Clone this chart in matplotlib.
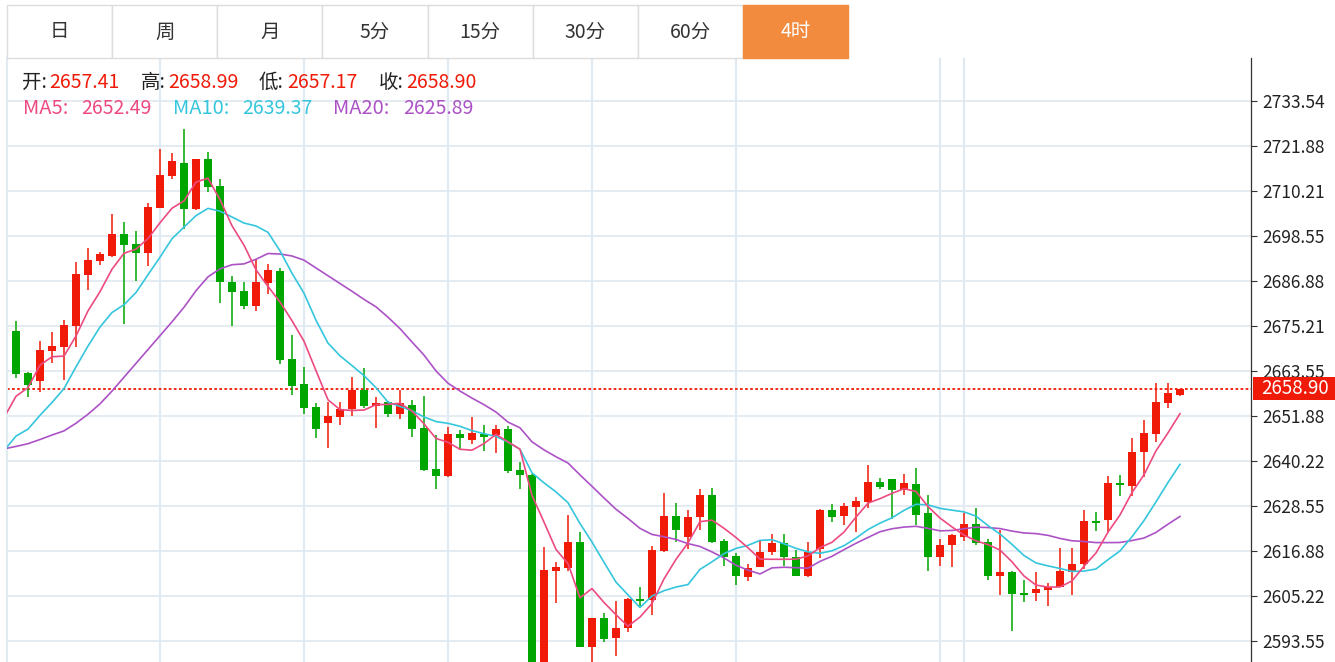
import numpy as np
import pandas as pd
import matplotlib
matplotlib.use("Agg")
import matplotlib.pyplot as plt
from matplotlib.patches import Rectangle

plt.rcParams['font.family'] = ['Noto Sans CJK SC', 'DejaVu Sans']

# 4h candles (oldest first)
opens = [
    2674.05, 2663.02, 2660.95, 2668.85, 2669.66, 2675.13, 2688.50, 2692.18, 2693.35, 2699.09,
    2696.40, 2694.15, 2705.91, 2713.98, 2717.57, 2705.46, 2718.47, 2711.56, 2686.62, 2684.19,
    2680.52, 2686.35, 2689.58, 2666.79, 2660.06, 2654.13, 2650.01, 2651.62, 2653.69, 2658.71,
    2654.49, 2655.39, 2652.34, 2654.85, 2648.75, 2638.07, 2636.37, 2647.32, 2645.79, 2647.32,
    2646.87, 2648.39, 2637.89, 2636.64, 2587.60, 2611.69, 2612.50, 2619.32, 2591.95, 2599.49,
    2594.37, 2596.89, 2604.51, 2604.07, 2616.81, 2625.87, 2620.40, 2625.60, 2631.43, 2619.50,
    2615.55, 2610.26, 2612.86, 2616.63, 2618.87, 2615.46, 2610.53, 2617.52, 2627.57, 2625.87,
    2628.29, 2629.64, 2634.75, 2635.47, 2632.78, 2634.39, 2626.68, 2615.28, 2618.42, 2620.40,
    2623.99, 2619.14, 2610.35, 2611.42, 2606.13, 2606.13, 2606.76, 2607.65, 2611.42, 2613.49,
    2624.70, 2624.88, 2634.57, 2633.86, 2642.47, 2647.32, 2655.21, 2657.41]
highs = [
    2676.48, 2663.38, 2671.36, 2673.79, 2676.75, 2691.73, 2695.50, 2694.42, 2704.38, 2702.14,
    2699.81, 2706.99, 2721.07, 2720.18, 2726.19, 2718.60, 2720.36, 2713.36, 2688.14, 2686.62,
    2692.63, 2691.28, 2690.21, 2672.89, 2664.54, 2655.21, 2655.57, 2655.57, 2662.12, 2664.36,
    2656.92, 2655.70, 2658.71, 2656.11, 2657.01, 2646.96, 2649.11, 2648.30, 2651.71, 2649.47,
    2649.56, 2649.29, 2639.96, 2636.80, 2617.97, 2613.94, 2626.32, 2621.83, 2599.49, 2600.92,
    2603.89, 2604.70, 2607.65, 2618.24, 2631.88, 2629.37, 2627.40, 2632.96, 2633.14, 2620.04,
    2616.45, 2613.49, 2619.77, 2621.29, 2621.29, 2617.08, 2619.32, 2627.75, 2629.19, 2629.46,
    2630.98, 2639.24, 2635.92, 2635.65, 2636.91, 2638.34, 2631.43, 2620.04, 2621.29, 2626.68,
    2628.11, 2620.04, 2622.46, 2611.60, 2609.45, 2611.51, 2608.55, 2617.70, 2617.70, 2627.57,
    2627.13, 2636.37, 2636.55, 2646.24, 2650.90, 2660.42, 2660.42, 2658.99]
lows = [
    2661.76, 2656.83, 2658.08, 2665.53, 2661.31, 2669.84, 2684.55, 2691.10, 2693.08, 2675.85,
    2686.89, 2690.83, 2705.80, 2713.45, 2700.44, 2705.28, 2709.95, 2681.14, 2675.22, 2679.53,
    2679.17, 2683.48, 2665.26, 2657.45, 2652.34, 2646.15, 2643.55, 2649.56, 2651.89, 2654.04,
    2648.66, 2651.62, 2651.08, 2646.51, 2637.71, 2633.05, 2636.10, 2643.10, 2644.71, 2642.83,
    2642.20, 2637.09, 2633.05, 2582.00, 2584.50, 2603.35, 2611.69, 2591.95, 2587.00, 2593.30,
    2589.71, 2595.99, 2602.27, 2600.21, 2616.63, 2619.14, 2617.52, 2622.28, 2618.96, 2613.04,
    2608.10, 2609.18, 2612.68, 2615.91, 2613.04, 2610.35, 2610.17, 2615.01, 2624.52, 2623.63,
    2621.83, 2627.93, 2632.96, 2625.15, 2631.34, 2623.63, 2611.69, 2613.04, 2612.86, 2619.50,
    2618.42, 2609.45, 2605.41, 2596.17, 2603.62, 2603.89, 2602.54, 2607.47, 2605.41, 2612.32,
    2622.19, 2621.83, 2631.16, 2631.25, 2636.19, 2645.16, 2653.87, 2657.17]
closes = [
    2662.66, 2659.88, 2669.03, 2670.02, 2675.49, 2688.77, 2692.36, 2693.97, 2699.09, 2696.13,
    2694.15, 2706.09, 2714.43, 2717.93, 2705.64, 2718.47, 2711.20, 2686.62, 2684.10, 2680.43,
    2686.53, 2689.67, 2666.52, 2659.79, 2653.87, 2648.39, 2651.89, 2653.78, 2658.71, 2654.40,
    2655.30, 2652.34, 2655.21, 2648.57, 2637.89, 2636.37, 2647.32, 2646.15, 2647.40, 2646.42,
    2648.39, 2637.62, 2636.55, 2587.50, 2611.96, 2612.86, 2619.32, 2592.13, 2599.49, 2594.02,
    2596.89, 2604.51, 2603.89, 2617.08, 2625.87, 2622.28, 2625.78, 2631.43, 2619.14, 2615.28,
    2610.35, 2612.50, 2616.72, 2618.87, 2615.28, 2610.53, 2616.63, 2627.57, 2625.78, 2628.47,
    2629.91, 2634.75, 2633.41, 2632.60, 2634.57, 2626.32, 2615.28, 2618.42, 2621.11, 2623.99,
    2618.87, 2610.35, 2611.42, 2605.86, 2605.59, 2607.12, 2607.65, 2611.69, 2613.58, 2624.70,
    2624.26, 2634.57, 2634.04, 2642.65, 2647.58, 2655.39, 2657.90, 2658.90]

# moving averages before enough visible history exists (bar -1 onward)
ma5_head = [2651.44, 2657.01, 2659.25, 2665.08, 2667.24]
ma10_head = [2642.92, 2646.69, 2648.48, 2652.07, 2655.39, 2658.98, 2664.63, 2670.02,
             2674.95, 2678.72]
ma20_head = [2643.37, 2644.00, 2644.71, 2645.79, 2646.96, 2648.03, 2650.01, 2652.34,
             2655.03, 2658.35, 2661.94, 2665.53, 2669.12, 2672.71, 2676.30, 2680.07,
             2684.37, 2687.96, 2690.03, 2691.10]

# values printed in the legend line
ma_names = ['MA5:', 'MA10:', 'MA20:']
ma_last = [2652.49, 2639.37, 2625.89]

yticks = [2593.55, 2605.22, 2616.88, 2628.55, 2640.22, 2651.88, 2663.55,
          2675.21, 2686.88, 2698.55, 2710.21, 2721.88, 2733.54]
day_breaks = [12, 24, 36, 48, 60, 77, 79]
tabs = ['日', '周', '月', '5分', '15分', '30分', '60分', '4时']
active_tab = '4时'

RED = '#f01a08'
GREEN = '#00a600'
C_MA5 = '#ec4a80'
C_MA10 = '#35c6dd'
C_MA20 = '#ac52c6'
GRID = '#e2eaf1'

o = np.array(opens)
h = np.array(highs)
l = np.array(lows)
c = np.array(closes)
x = np.arange(len(c))

s = pd.Series(c)
ma5 = np.r_[ma5_head, s.rolling(5).mean().values[4:]]
ma10 = np.r_[ma10_head, s.rolling(10).mean().values[9:]]
ma20 = np.r_[ma20_head, s.rolling(20).mean().values[19:]]
xm = np.arange(-1, len(c))

W, H = 1335, 662
fig = plt.figure(figsize=(W / 100, H / 100), dpi=100)
ax = fig.add_axes([7 / W, 0, (1251 - 7) / W, (H - 58) / H])
ax.set_xlim(-0.75, 102.92)
ax.set_ylim(2588.12, 2744.69)

ax.yaxis.tick_right()
ax.set_yticks(yticks)
ax.set_yticklabels([f"{v:.2f}" for v in yticks])
ax.tick_params(axis='y', length=4, width=0.8, color='#333333', labelcolor='#222222',
               labelsize=12.5, pad=4)
ax.set_xticks([])
for side in ['top', 'bottom']:
    ax.spines[side].set_visible(False)
ax.spines['right'].set_color('#333333')
ax.spines['right'].set_linewidth(0.9)
ax.spines['left'].set_color(GRID)
ax.spines['left'].set_linewidth(1.5)

ax.grid(axis='y', color=GRID, lw=1.3, zorder=0)
for d in day_breaks:
    ax.axvline(d, color=GRID, lw=1.6, zorder=0)
ax.set_axisbelow(True)

colors = np.where(c >= o, RED, GREEN)
ax.vlines(x, l, h, colors=colors, lw=1.1, zorder=3)
ax.bar(x, np.maximum(np.abs(c - o), 0.35), bottom=np.minimum(o, c), width=0.62,
       color=colors, linewidth=0, zorder=4)

ax.plot(xm, ma20, color=C_MA20, lw=1.2, zorder=5)
ax.plot(xm, ma10, color=C_MA10, lw=1.2, zorder=5)
ax.plot(xm, ma5, color=C_MA5, lw=1.2, zorder=5)

ax.axhline(c[-1], color=RED, lw=1.3, ls=(0, (1.5, 1.3)), zorder=2)

# overlay in pixel coordinates for the tab bar, info lines and price tag
ov = fig.add_axes([0, 0, 1, 1], zorder=10)
ov.set_xlim(0, W)
ov.set_ylim(H, 0)
ov.axis('off')
ov.patch.set_alpha(0)

tab_w = (848 - 7) / len(tabs)
for k, t in enumerate(tabs):
    x0 = 7 + k * tab_w
    on = t == active_tab
    ov.add_patch(Rectangle((x0, 5), tab_w, 53, facecolor='#f28b3e' if on else 'white',
                           edgecolor='#f28b3e' if on else '#dddddd', lw=1))
    ov.text(x0 + tab_w / 2, 32, t, ha='center', va='center', fontsize=14,
            color='white' if on else '#333333')

info = [('开:', 22, 49, opens[-1]), ('高:', 141, 168, highs[-1]),
        ('低:', 259, 287, lows[-1]), ('收:', 379, 406, closes[-1])]
for lab, xl, xv, v in info:
    ov.text(xl, 82, lab, ha='left', va='center', fontsize=14, color='#222222')
    ov.text(xv, 82, f"{v:.2f}", ha='left', va='center', fontsize=14, color=RED)

ma_pos = [(23, 81), (173, 242), (333, 403)]
for name, v, (xl, xv), col in zip(ma_names, ma_last, ma_pos, [C_MA5, C_MA10, C_MA20]):
    ov.text(xl, 109, name, ha='left', va='center', fontsize=14.5, color=col)
    ov.text(xv, 109, f"{v:.2f}", ha='left', va='center', fontsize=14, color=col)

ov.add_patch(Rectangle((1253, 377), 82, 23, facecolor=RED, edgecolor='none'))
ov.text(1295, 388.5, f"{closes[-1]:.2f}", ha='center', va='center', fontsize=13.5,
        color='white')

fig.savefig('out.png', dpi=100, facecolor='white')
